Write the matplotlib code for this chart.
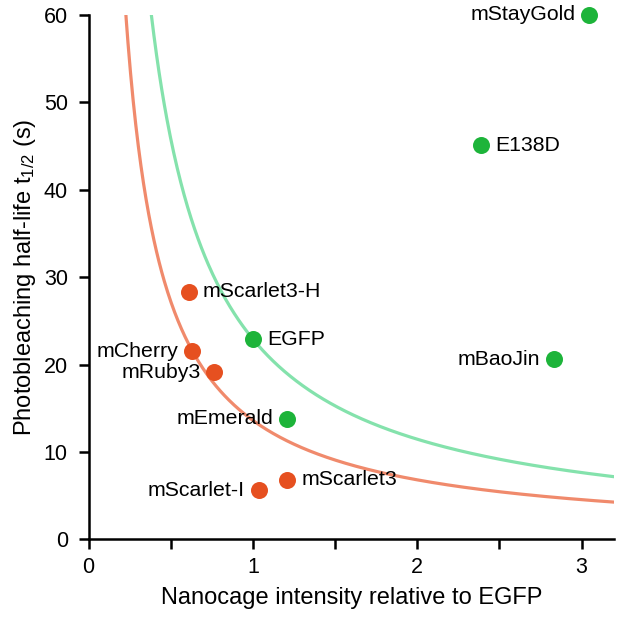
import numpy as np
import matplotlib.pyplot as plt

plt.rcParams['font.family'] = ['Liberation Sans', 'DejaVu Sans']
plt.rcParams['mathtext.fontset'] = 'custom'
plt.rcParams['mathtext.rm'] = 'Liberation Sans'
plt.rcParams['mathtext.it'] = 'Liberation Sans:italic'

# green FPs
green_names = ["mStayGold", "E138D", "mBaoJin", "EGFP", "mEmerald"]
green_x = [3.045, 2.39, 2.83, 1.0, 1.21]
green_y = [60.0, 45.1, 20.6, 22.9, 13.8]
green_side = ["left", "right", "left", "right", "left"]

# red FPs
red_names = ["mScarlet3-H", "mCherry", "mRuby3", "mScarlet3", "mScarlet-I"]
red_x = [0.611, 0.632, 0.765, 1.21, 1.036]
red_y = [28.3, 21.5, 19.1, 6.8, 5.6]
red_side = ["right", "left", "left", "right", "left"]

# constant-product curves y = k / x
k_green = 22.9
k_red = 13.6

c_green_dot = "#1DB43A"
c_red_dot = "#E65020"
c_green_line = "#84E2AC"
c_red_line = "#F08A6C"

fig = plt.figure(figsize=(6.2, 6.19), dpi=100)
ax = fig.add_axes([0.143, 0.1288, 0.848, 0.847])

xx = np.linspace(0.05, 3.2, 600)
ax.plot(xx, k_green / xx, color=c_green_line, lw=2.3, zorder=1)
ax.plot(xx, k_red / xx, color=c_red_line, lw=2.3, zorder=1)

ax.scatter(green_x, green_y, s=150, color=c_green_dot, zorder=3, clip_on=False, linewidths=0)
ax.scatter(red_x, red_y, s=150, color=c_red_dot, zorder=3, clip_on=False, linewidths=0)

for names, xs, ys, sides in [(green_names, green_x, green_y, green_side),
                             (red_names, red_x, red_y, red_side)]:
    for n, x, y, s in zip(names, xs, ys, sides):
        dx = 10 if s == "right" else -10
        ax.annotate(n, (x, y), xytext=(dx, 0), textcoords="offset points",
                    ha="left" if s == "right" else "right", va="center",
                    fontsize=15.3)

ax.set_xlim(0, 3.2)
ax.set_ylim(0, 60)
ax.set_xticks(np.arange(0, 3.01, 0.5))
ax.set_xticklabels(["0", "", "1", "", "2", "", "3"])
ax.set_yticks(np.arange(0, 61, 10))
ax.tick_params(labelsize=15.5, width=1.8, length=7, color="black")
ax.tick_params(axis="x", pad=6)
ax.tick_params(axis="y", pad=8)
for sp in ["top", "right"]:
    ax.spines[sp].set_visible(False)
for sp in ["left", "bottom"]:
    ax.spines[sp].set_linewidth(1.8)

ax.set_xlabel("Nanocage intensity relative to EGFP", fontsize=17, labelpad=6)
ax.set_ylabel(r"Photobleaching half-life t$_{\mathit{1/2}}$ (s)", fontsize=17, labelpad=4)

fig.savefig("out.png", dpi=100)
